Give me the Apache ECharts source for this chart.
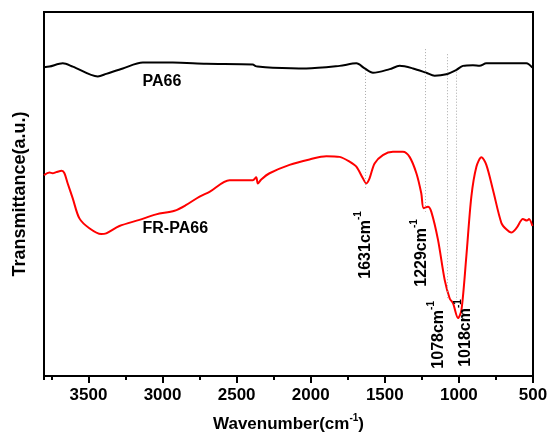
<!DOCTYPE html>
<html>
<head>
<meta charset="utf-8">
<script src="https://cdn.jsdelivr.net/npm/echarts@6/dist/echarts.min.js"></script>
<style>html,body{margin:0;padding:0;background:#fff}#c{width:549px;height:432px}</style>
</head>
<body>
<div id="c"></div>
<script>
// ---- data ----
const xTicks = [500, 1000, 1500, 2000, 2500, 3000, 3500];
const pa66Wn = [3800, 3763, 3673, 3606, 3437, 3380, 3268, 3133, 2931, 2705, 2391, 2375, 2359, 2256, 2030, 1805, 1692, 1636, 1580, 1467, 1400, 1310, 1220, 1164, 1085, 1017, 973, 905, 860, 815, 545, 504];
const pa66T  = [84.8, 85.0, 85.9, 85.0, 82.3, 83.0, 84.5, 86.1, 86.1, 85.8, 85.6, 85.2, 85.0, 84.7, 84.5, 85.2, 85.9, 84.5, 83.3, 84.3, 85.2, 84.5, 83.3, 82.5, 82.9, 84.1, 85.2, 85.4, 85.2, 85.9, 85.9, 84.7];
const frWn = [3800, 3763, 3741, 3718, 3680, 3662, 3640, 3606, 3561, 3494, 3414, 3380, 3291, 3156, 3043, 2919, 2840, 2750, 2683, 2548, 2391, 2368, 2357, 2334, 2278, 2143, 2008, 1895, 1805, 1738, 1692, 1648, 1625, 1603, 1569, 1513, 1445, 1378, 1333, 1287, 1254, 1238, 1209, 1186, 1141, 1096, 1062, 1040, 1006, 983, 950, 916, 882, 848, 815, 770, 713, 680, 646, 612, 568, 541, 527, 504];
const frT  = [55.2, 55.9, 55.7, 56.0, 56.4, 55.7, 52.9, 48.8, 43.3, 40.6, 39.0, 39.2, 41.2, 42.9, 44.4, 45.4, 47.0, 49.3, 50.6, 53.8, 53.8, 54.6, 52.9, 54.0, 55.7, 58.0, 59.5, 60.4, 60.2, 58.9, 57.5, 54.3, 52.9, 54.3, 58.4, 60.7, 61.6, 61.6, 60.2, 55.7, 50.2, 46.1, 46.5, 45.1, 37.4, 26.4, 21.3, 20.0, 15.9, 18.1, 32.8, 49.3, 57.5, 60.1, 58.0, 51.1, 42.0, 40.3, 39.4, 40.6, 43.1, 42.7, 43.1, 41.2];
// annotation peaks: wavenumber, dashed line from/to (a.u.), label anchor (wn, a.u.)
const peakWn    = [1631, 1229, 1078, 1018];
const peakFrom  = [84.9, 89.8, 88.4, 83.6];
const peakTo    = [51.1, 45.1, 21.4, 20.9];
const peakLabWn = [1643, 1265, 1150, 968];
const peakLabT  = [45.3, 43.1, 20.6, 21.1];
const seriesNames = ['PA66', 'FR-PA66'];
const nameLabWn = [3135, 3135];
const nameLabT  = [81.0, 40.4];

const FONT = 'Liberation Sans, Arial, sans-serif';
const chart = echarts.init(document.getElementById('c'));
const pa = pa66Wn.map((w, i) => [w, pa66T[i]]);
const fr = frWn.map((w, i) => [w, frT[i]]);
const ml = peakWn.map((w, i) => [{coord: [w, peakFrom[i]]}, {coord: [w, peakTo[i]]}]);

const option = {
  animation: false,
  grid: {left: 44, right: 16, top: 12, bottom: 56, show: true, borderColor: '#000', borderWidth: 2,
    backgroundColor: 'transparent', outerBoundsMode: 'none', containLabel: false},
  xAxis: [{
    type: 'value', min: 500, max: 3800, interval: 500, inverse: true,
    axisLine: {show: true, lineStyle: {color: '#000', width: 2}},
    axisTick: {show: true, length: 7, lineStyle: {color: '#000', width: 2}},
    axisLabel: {color: '#000', fontFamily: FONT, fontWeight: 'bold', fontSize: 17, margin: 11, showMaxLabel: false,
      formatter: v => xTicks.indexOf(v) >= 0 ? String(v) : ''},
    splitLine: {show: false},
    name: '{a|Wavenumber(cm}{s|-1}{a|)}', nameLocation: 'middle', nameGap: 37,
    nameTextStyle: {rich: {
      a: {fontFamily: FONT, fontWeight: 'bold', fontSize: 17, color: '#000', lineHeight: 20, verticalAlign: 'bottom'},
      s: {fontFamily: FONT, fontWeight: 'bold', fontSize: 10, color: '#000', lineHeight: 20, verticalAlign: 'top'}
    }}
  }, {
    type: 'value', min: 500, max: 3800, interval: 250, inverse: true, position: 'bottom',
    axisLine: {show: false},
    axisTick: {show: true, length: 4, lineStyle: {color: '#000', width: 2}},
    axisLabel: {show: false}, splitLine: {show: false}
  }],
  yAxis: {
    type: 'value', min: 0, max: 100,
    axisLine: {show: true, lineStyle: {color: '#000', width: 2}},
    axisTick: {show: false}, axisLabel: {show: false}, splitLine: {show: false},
    name: 'Transmittance(a.u.)', nameLocation: 'middle', nameGap: 15,
    nameTextStyle: {fontFamily: FONT, fontWeight: 'bold', fontSize: 18, color: '#000'}
  },
  series: [{
    name: seriesNames[0], type: 'line', data: pa, showSymbol: false, smooth: 0.3,
    lineStyle: {color: '#000', width: 2}, z: 3
  }, {
    name: seriesNames[1], type: 'line', data: fr, showSymbol: false, smooth: 0.3,
    lineStyle: {color: '#ff0000', width: 2}, z: 3,
    markLine: {silent: true, symbol: 'none', label: {show: false},
      lineStyle: {color: '#aaa', type: [1, 2], width: 1}, data: ml}
  }]
};
chart.setOption(option);

const g = [];
peakWn.forEach((w, i) => {
  const p = chart.convertToPixel({gridIndex: 0}, [peakLabWn[i], peakLabT[i]]);
  g.push({type: 'text', x: p[0], y: p[1], rotation: Math.PI / 2, z: 10,
    style: {text: '{n|' + w + 'cm}{s|-1}', align: 'right', verticalAlign: 'middle',
      rich: {
        n: {fontFamily: FONT, fontWeight: 'bold', fontSize: 16, fill: '#000', lineHeight: 20, verticalAlign: 'bottom'},
        s: {fontFamily: FONT, fontWeight: 'bold', fontSize: 10, fill: '#000', lineHeight: 20, verticalAlign: 'top'}
      }}});
});
seriesNames.forEach((n, i) => {
  const p = chart.convertToPixel({gridIndex: 0}, [nameLabWn[i], nameLabT[i]]);
  g.push({type: 'text', x: p[0], y: p[1], z: 10,
    style: {text: n, align: 'left', verticalAlign: 'middle', fontFamily: FONT, fontWeight: 'bold', fontSize: 16, fill: '#000'}});
});
chart.setOption({graphic: g});
</script>
</body>
</html>
